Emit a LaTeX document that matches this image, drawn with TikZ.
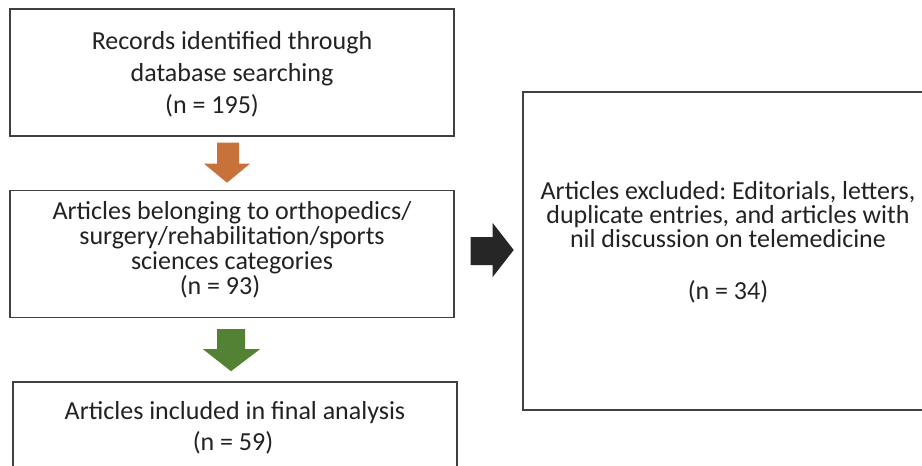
\documentclass[tikz,border=0pt]{standalone}
\usepackage{fontspec}
\setmainfont{Carlito}
\frenchspacing
\usetikzlibrary{calc}
\definecolor{boxline}{RGB}{64,64,64}
\definecolor{txt}{RGB}{34,34,34}
\definecolor{orangearr}{RGB}{199,114,58}
\definecolor{greenarr}{RGB}{84,130,53}
\definecolor{blackarr}{RGB}{38,38,38}
\tikzset{
  flowbox/.style={draw=boxline, line width=1.4pt, fill=white, text=txt,
    align=center, inner sep=0pt},
  flowtext/.style={text=txt, align=center, inner sep=0pt},
}
\begin{document}
\begin{tikzpicture}[x=1pt,y=-1pt]
\clip (0,0) rectangle (922,466);
\fill[white] (0,0) rectangle (922,466);
% boxes
\node[flowbox, minimum width=444pt, minimum height=127pt] (b1) at (232,72.5) {};
\node[flowbox, minimum width=444pt, minimum height=127pt] (b2) at (232,254) {};
\node[flowbox, minimum width=444pt, minimum height=96pt] (b3) at (235,430) {};
\node[flowbox, minimum width=410pt, minimum height=318pt] (b4) at (728,251) {};
% texts
\node[flowtext, font=\fontsize{26}{32}\selectfont] (t1) at (232,74.5)
  {Records identified through\\database searching\\(n = 195)\hspace*{40pt}};
\node[flowtext, font=\fontsize{26}{25}\selectfont] (t2) at (232,250)
  {Articles belonging to orthopedics/\\surgery/rehabilitation/sports\\sciences categories\hspace*{10pt}\\(n = 93)\hspace*{24pt}};
\node[flowtext, font=\fontsize{26}{31}\selectfont] (t3) at (235,427.5)
  {Articles included in final analysis\\(n = 59)\hspace*{4pt}};
\node[flowtext, font=\fontsize{26}{24}\selectfont] (t4) at (728,242)
  {Articles excluded: Editorials, letters,\\duplicate entries, and articles with\hspace*{8pt}\\nil discussion on telemedicine\hspace*{10pt}\\[28pt](n = 34)};
% block arrows
\coordinate (o) at ($(b1.south)+(-2.5,0)$);
\fill[orangearr] ($(o)+(-12.5,6)$) -- ($(o)+(9.5,6)$) -- ($(o)+(9.5,27)$) -- ($(o)+(20.5,27)$)
  -- ($(o)+(-2.5,46)$) -- ($(o)+(-25.5,27)$) -- ($(o)+(-12.5,27)$) -- cycle;
\coordinate (g) at ($(b2.south)+(0,0)$);
\fill[greenarr] ($(g)+(-15,11)$) -- ($(g)+(13,11)$) -- ($(g)+(13,31)$) -- ($(g)+(28,31)$)
  -- ($(g)+(-1,53)$) -- ($(g)+(-29,31)$) -- ($(g)+(-15,31)$) -- cycle;
\coordinate (k) at (b2.east);
\fill[blackarr] ($(k)+(16,-17)$) -- ($(k)+(38,-17)$) -- ($(k)+(38,-31)$) -- ($(k)+(59,-4)$)
  -- ($(k)+(38,23)$) -- ($(k)+(38,11)$) -- ($(k)+(16,11)$) -- cycle;
\end{tikzpicture}
\end{document}
